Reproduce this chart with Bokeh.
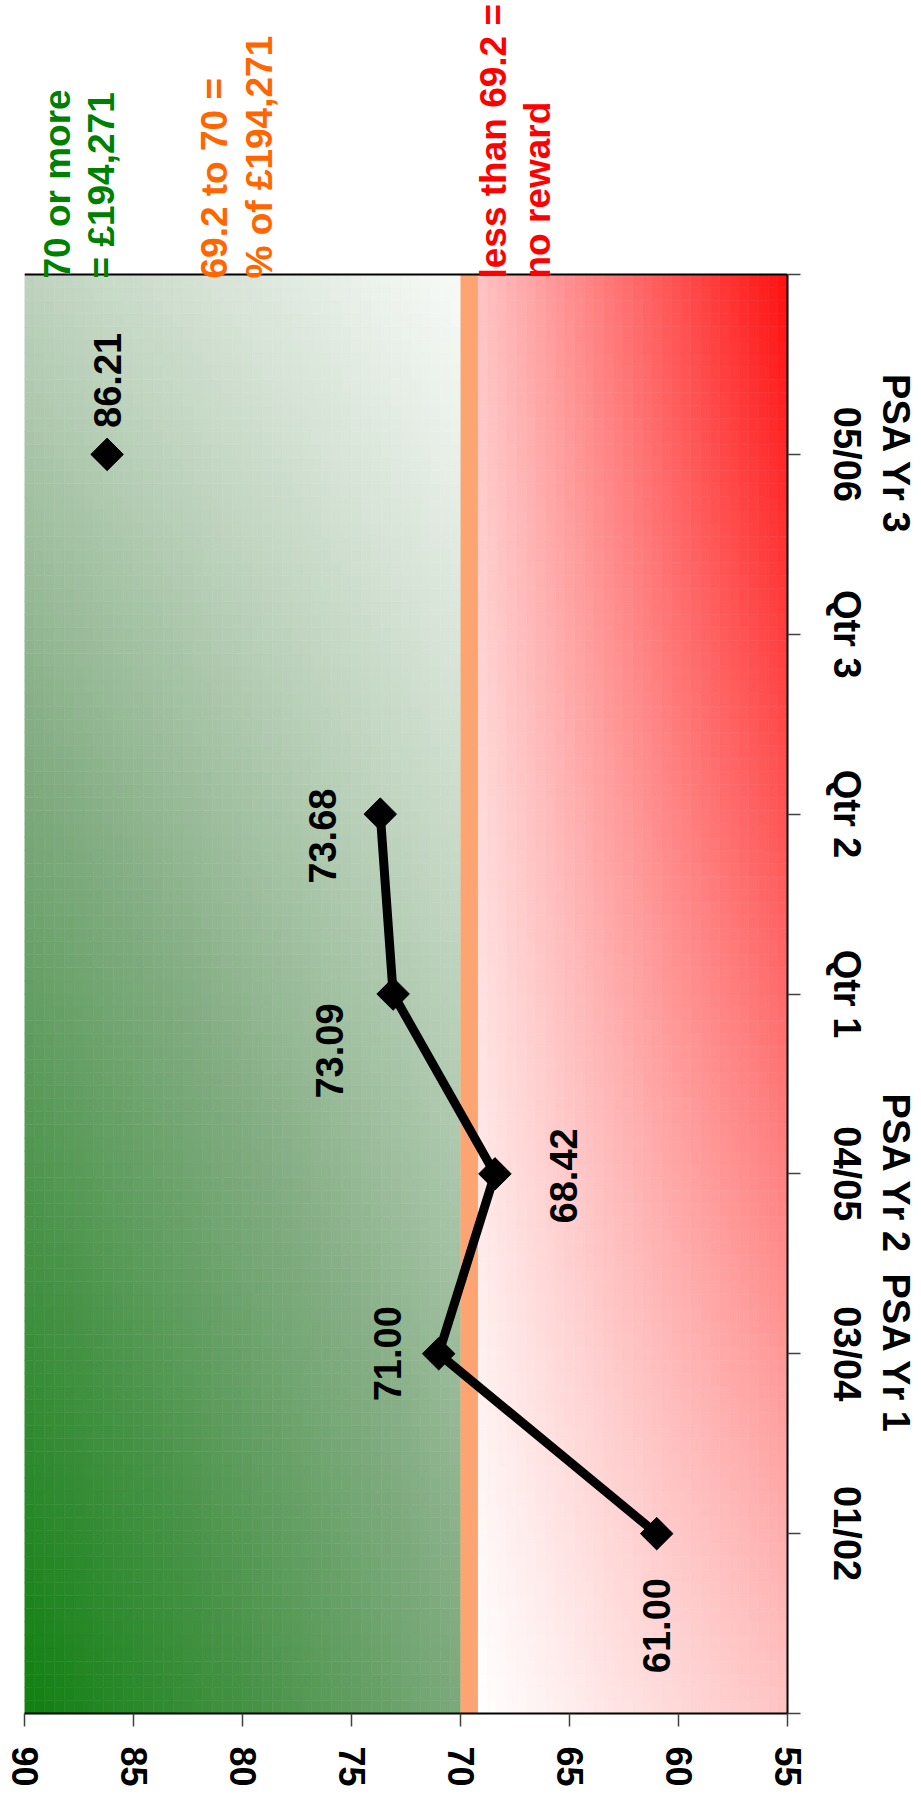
import math
import numpy as np
from bokeh.plotting import figure
from bokeh.models import ColumnDataSource, Range1d, FixedTicker, LinearAxis
from bokeh.core.properties import value
from bokeh.embed import file_html
from bokeh.resources import INLINE

# ---------------- data ----------------
categories = ["01/02", "03/04", "04/05", "Qtr 1", "Qtr 2", "Qtr 3", "05/06"]
sub_labels = ["", "PSA Yr 1", "PSA Yr 2", "", "", "", "PSA Yr 3"]
scores = [61.00, 71.00, 68.42, 73.09, 73.68, float("nan"), 86.21]
x_ticks = [90, 85, 80, 75, 70, 65, 60, 55]
axis_high, axis_low = 90, 55
full_reward = 70.0
partial_reward = 69.2
annotations_green = ["70 or more", "= \u00a3194,271"]
annotations_orange = ["69.2 to 70 =", "% of \u00a3194,271"]
annotations_red = ["less than 69.2 =", "no reward"]

# ---------------- styling / layout ----------------
LEFT = 24                   # canvas x of the chart area's left edge
FW, FH = 763, 1439          # chart area (value axis x category axis)
TOP_PX = 274                # space above chart area for the threshold notes
n_slots = len(categories) + 1
px_per_val = FW / (axis_high - axis_low)
px_per_cat = FH / n_slots
y_top = n_slots * (FH + TOP_PX) / FH

# label offsets in screen pixels (right, down) relative to each marker
label_dx = [0, -51, 69, -64, -58, 0, 0]
label_dy = [92, 0, 2, 57, 22, 0, -74]

FONT = "Liberation Sans"

p = figure(frame_width=FW, frame_height=FH + TOP_PX,
           x_range=Range1d(axis_high, axis_low), y_range=Range1d(0, y_top),
           y_axis_location="right", output_backend="svg", toolbar_location=None,
           min_border_left=LEFT, min_border_top=0, min_border_right=10,
           min_border_bottom=10, background_fill_color="white",
           border_fill_color="white", outline_line_color=None)
p.xgrid.visible = False
p.ygrid.visible = False


# ---------------- gradient backgrounds ----------------
def gradient(x_left, x_right, nx, ny, tfun, stops, colors):
    xs = np.linspace(x_left, x_right, nx + 1)
    ys = np.linspace(0, n_slots, ny + 1)
    L, R, B, T, C = [], [], [], [], []
    cols = np.array(colors, dtype=float)
    for i in range(nx):
        u = (i + 0.5) / nx
        for j in range(ny):
            v = (j + 0.5) / ny
            t = min(1.0, max(0.0, tfun(u, v)))
            rgb = [int(round(np.interp(t, stops, cols[:, k]))) for k in range(3)]
            L.append(xs[i]); R.append(xs[i + 1])
            B.append(ys[j]); T.append(ys[j + 1])
            C.append("#%02x%02x%02x" % tuple(rgb))
    return ColumnDataSource(dict(left=L, right=R, bottom=B, top=T, color=C))


green_src = gradient(axis_high, full_reward, 44, 110,
                     lambda u, v: 0.47 * u + 0.74 * v - 0.21 * u * v,
                     [0, 0.25, 0.5, 0.75, 1],
                     [(16, 128, 16), (70, 146, 70), (130, 172, 130),
                      (192, 212, 192), (248, 250, 248)])
red_src = gradient(partial_reward, axis_low, 32, 110,
                   lambda u, v: 0.25 * u + 0.25 * v + 0.5 * u * v,
                   [0, 1], [(255, 255, 255), (255, 16, 16)])
p.quad(left="left", right="right", bottom="bottom", top="top", fill_color="color",
       line_color="color", line_width=0.6, source=green_src)
p.quad(left="left", right="right", bottom="bottom", top="top", fill_color="color",
       line_color="color", line_width=0.6, source=red_src)
p.quad(left=[full_reward], right=[partial_reward], bottom=[0], top=[n_slots],
       fill_color="#FCA573", line_color=None)

# top border of the chart area
p.segment(x0=[axis_high], y0=[n_slots], x1=[axis_low], y1=[n_slots],
          line_color="black", line_width=2)

# ---------------- series ----------------
cat_pos = list(range(1, len(categories) + 1))
p.line(x=scores, y=cat_pos, line_color="black", line_width=9)
valid = [i for i, s in enumerate(scores) if not math.isnan(s)]
p.scatter(x=[scores[i] for i in valid], y=[cat_pos[i] for i in valid],
          marker="square", size=23, angle=math.pi / 4,
          fill_color="black", line_color="black")

lab_src = ColumnDataSource(dict(
    x=[scores[i] - label_dx[i] / px_per_val for i in valid],
    y=[cat_pos[i] - label_dy[i] / px_per_cat for i in valid],
    t=["%.2f" % scores[i] for i in valid]))
p.text(x="x", y="y", text="t", source=lab_src, angle=math.pi / 2,
       text_align="center", text_baseline="middle", text_color="black",
       text_font=value(FONT), text_font_style="bold", text_font_size="38px")

# ---------------- threshold notes ----------------
y_start = (FH - 4) / px_per_cat  # just inside the top edge of the chart area


def add_lines(lines, base_px, color):
    src = ColumnDataSource(dict(
        x=[axis_high - (bx - LEFT) / px_per_val for bx in base_px],
        y=[y_start] * len(lines), t=lines))
    p.text(x="x", y="y", text="t", source=src, angle=math.pi / 2,
           text_align="left", text_baseline="alphabetic", text_color=color,
           text_font=value(FONT), text_font_style="bold", text_font_size="37px")


add_lines(annotations_green, [57, 101], "#008000")
add_lines(annotations_orange, [214, 259], "#FF6600")
add_lines(annotations_red, [493, 537], "#FF0000")

# ---------------- axes ----------------
xa = p.xaxis[0]
xa.ticker = FixedTicker(ticks=x_ticks)
xa.major_label_orientation = "vertical"
xa.major_label_text_font = FONT
xa.major_label_text_font_style = "bold"
xa.major_label_text_font_size = "36px"
xa.major_label_text_color = "black"
xa.major_label_standoff = 20
xa.axis_line_color = "black"
xa.axis_line_width = 2
xa.major_tick_out = 13
xa.major_tick_in = 0
xa.major_tick_line_color = "#404040"
xa.major_tick_line_width = 1.5
xa.minor_tick_line_color = None

ya = p.yaxis[0]
ya.bounds = (0, n_slots)
ya.ticker = FixedTicker(ticks=list(range(0, n_slots + 1)))
ya.major_label_overrides = {i: (categories[i - 1] if 1 <= i <= len(categories) else "")
                            for i in range(0, n_slots + 1)}
ya.major_label_orientation = "vertical"
ya.major_label_text_font = FONT
ya.major_label_text_font_style = "bold"
ya.major_label_text_font_size = "38px"
ya.major_label_text_color = "black"
ya.major_label_standoff = 25
ya.axis_line_color = "black"
ya.axis_line_width = 2
ya.major_tick_out = 13
ya.major_tick_in = 0
ya.major_tick_line_color = "#404040"
ya.major_tick_line_width = 1.5
ya.minor_tick_line_color = None

sub_ticks = [cat_pos[i] for i, s in enumerate(sub_labels) if s]
ya2 = LinearAxis(ticker=FixedTicker(ticks=sub_ticks), bounds=(0, n_slots),
                 major_label_overrides={cat_pos[i]: s for i, s in enumerate(sub_labels) if s},
                 major_label_orientation="vertical",
                 major_label_text_font=FONT, major_label_text_font_style="bold",
                 major_label_text_font_size="38px", major_label_text_color="black",
                 major_label_standoff=4, axis_line_color=None,
                 major_tick_line_color=None, minor_tick_line_color=None,
                 major_tick_out=0, major_tick_in=0, minor_tick_out=0)
p.add_layout(ya2, "right")

open("out.html", "w").write(file_html(p, INLINE))
